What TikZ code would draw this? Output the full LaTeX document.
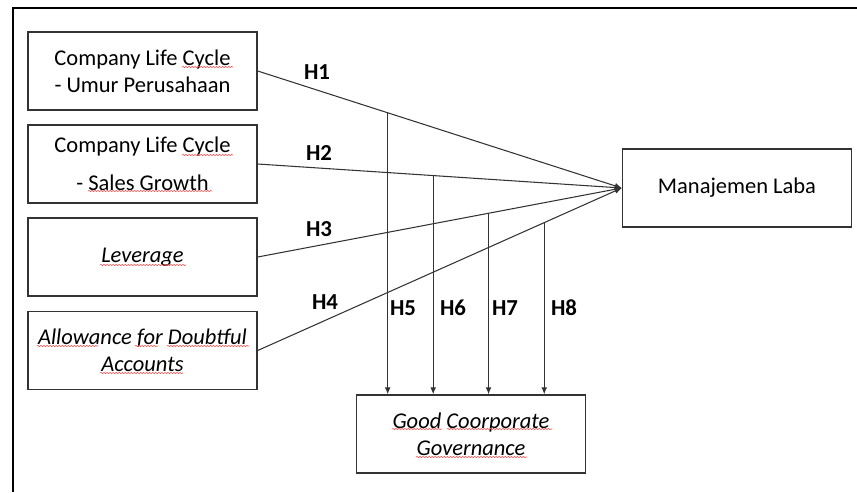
\documentclass[tikz,border=0pt]{standalone}
\usepackage{fontspec}
\setmainfont{Carlito}
\usetikzlibrary{arrows.meta}
\usetikzlibrary{calc}
\usetikzlibrary{decorations.pathmorphing}

\begin{document}
\begin{tikzpicture}[x=0.03cm,y=-0.03cm,
    var/.style={draw=black!80,line width=1.2pt,minimum width=6.87cm,
      minimum height=2.34cm,align=center,inner sep=0pt,
      font=\fontsize{19.2}{23}\selectfont},
    hyp/.style={font=\fontsize{19.5}{21}\selectfont\bfseries},
    link/.style={draw=black!80,line width=0.9pt,-{Latex[length=6pt,width=5pt]}},
    spell/.style={draw=red!70,line width=0.5pt,decorate,
      decoration={snake,amplitude=0.5pt,segment length=2.6pt}}]
        \useasboundingbox (0,0) rectangle (857,492);
        \draw[line width=1.8pt] (857,8) -- (13,8) -- (13,492);

        \node[var] (age) at (142.5,71) {Company Life Cycle\\- Umur Perusahaan};
        \node[var] (sales) at (142.5,164) {Company Life Cycle\\[9pt]- Sales Growth};
        \node[var] (lev) at (142.5,257) {\itshape Leverage};
        \node[var] (afda) at (142.5,350.5) {\itshape Allowance for Doubtful\\\itshape Accounts};
        \node[var] (ml) at (737,188) {Manajemen Laba};
        \node[var] (gcg) at (471,434) {\itshape Good Coorporate\\\itshape Governance};

        \draw[link] (age.east) -- (ml.west);
        \draw[link] (sales.east) -- (ml.west);
        \draw[link] (lev.east) -- (ml.west);
        \draw[link] (afda.east) -- (ml.west);

        % moderating paths start on the direct paths
        \coordinate (m5) at ($(age.east)!0.357!(ml.west)$);
        \coordinate (m6) at ($(sales.east)!0.482!(ml.west)$);
        \coordinate (m7) at ($(lev.east)!0.634!(ml.west)$);
        \coordinate (m8) at ($(afda.east)!0.787!(ml.west)$);
        \draw[link] (m5) -- (m5 |- gcg.north);
        \draw[link] (m6) -- (m6 |- gcg.north);
        \draw[link] (m7) -- (m7 |- gcg.north);
        \draw[link] (m8) -- (m8 |- gcg.north);

        \node[hyp] (h1) at (317,72) {H1};
        \node[hyp] (h2) at (319,153) {H2};
        \node[hyp] (h3) at (319,229) {H3};
        \node[hyp] (h4) at (325,302) {H4};
        \node[hyp] (h5) at (403,308) {H5};
        \node[hyp] (h6) at (453,308) {H6};
        \node[hyp] (h7) at (505,308) {H7};
        \node[hyp] (h8) at (564,308) {H8};

        % spelling marks
        \draw[spell] (182,67) -- (233,67);
        \draw[spell] (182,155) -- (233,155);
        \draw[spell] (88,191) -- (212,191);
        \draw[spell] (100,265) -- (186,265);
        \draw[spell] (37,346) -- (98,346);
        \draw[spell] (135,346) -- (158,346);
        \draw[spell] (167,346) -- (249,346);
        \draw[spell] (100,373) -- (183,373);
        \draw[spell] (392,429) -- (442,429);
        \draw[spell] (447,429) -- (552,429);
        \draw[spell] (416,457) -- (527,457);
\end{tikzpicture}
\end{document}
